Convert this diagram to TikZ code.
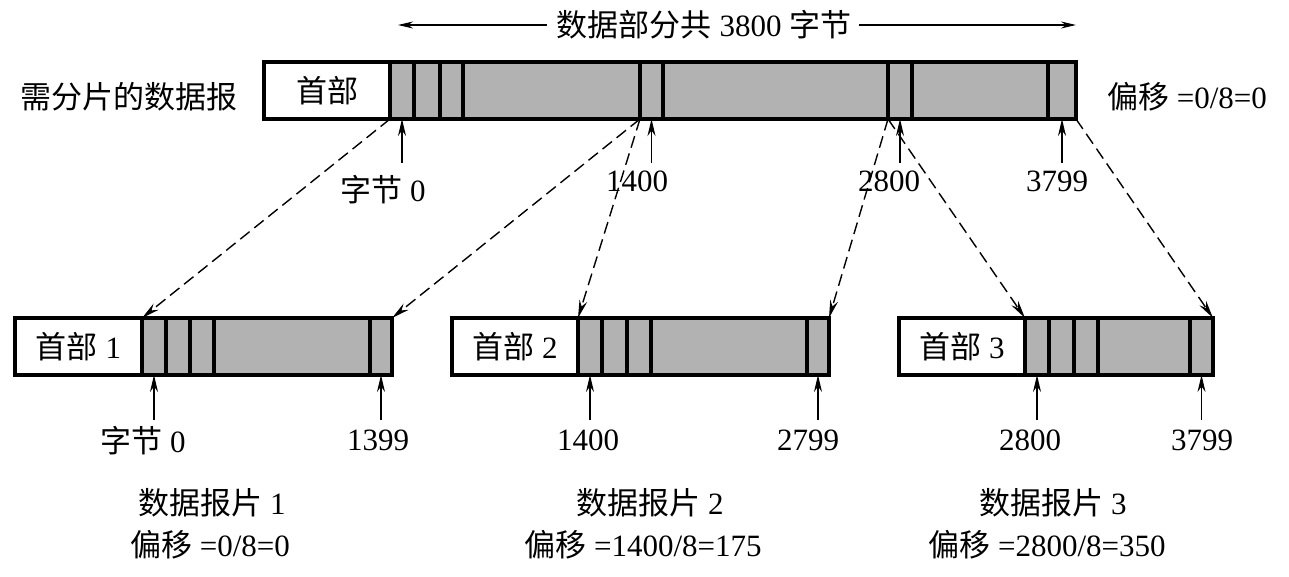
\documentclass[tikz,border=0pt]{standalone}
\usepackage{fontspec}
\setmainfont{Liberation Serif}
\newfontfamily\cjk{Noto Sans CJK SC}
\usetikzlibrary{arrows.meta}
\definecolor{datagray}{RGB}{178,178,178}
\begin{document}
\begin{tikzpicture}[x=1pt,y=-1pt,
  txt/.style={font=\fontsize{31}{36}\selectfont, inner sep=0pt},
  hdr/.style={draw, line width=3.4pt, fill=white, inner sep=0pt, outer sep=0pt,
    anchor=north west, minimum height=57pt, font=\fontsize{31}{36}\selectfont},
  cell/.style={draw, line width=3.4pt, fill=datagray, inner sep=0pt, outer sep=0pt,
    anchor=north west, minimum height=57pt},
  dashconn/.style={line width=1.4pt, dash pattern=on 12pt off 6pt,
    -{Stealth[length=18pt,width=8pt]}},
  ptr/.style={line width=1.4pt, -{Stealth[length=17pt,width=8pt]}},
  dimarr/.style={line width=1.8pt, -{Stealth[length=15pt,width=7pt]}}
]
\useasboundingbox (0,0) rectangle (1289,576);

% top datagram
\node[hdr, minimum width=126pt] (th) at (264,62) {{\cjk 首部}};
\foreach \a/\b/\n in {390/414/1,414/440/2,440/463/3,463/640/4,640/663/5,663/888/6,888/912/7,912/1048/8,1048/1076/9}{
  \pgfmathsetmacro\w{\b-\a}
  \node[cell, minimum width=\w pt] (t\n) at (\a,62) {};
}

% fragment 1
\node[hdr, minimum width=127pt] (h1) at (15,318) {{\cjk 首部} 1};
\foreach \a/\b/\n in {142/166/1,166/190/2,190/214/3,214/370/4,370/392/5}{
  \pgfmathsetmacro\w{\b-\a}
  \node[cell, minimum width=\w pt] (fa\n) at (\a,318) {};
}
% fragment 2
\node[hdr, minimum width=126pt] (h2) at (452,318) {{\cjk 首部} 2};
\foreach \a/\b/\n in {578/602/1,602/627/2,627/651/3,651/807/4,807/829/5}{
  \pgfmathsetmacro\w{\b-\a}
  \node[cell, minimum width=\w pt] (fb\n) at (\a,318) {};
}
% fragment 3
\node[hdr, minimum width=126pt] (h3) at (899,318) {{\cjk 首部} 3};
\foreach \a/\b/\n in {1025/1049/1,1049/1074/2,1074/1098/3,1098/1190/4,1190/1213/5}{
  \pgfmathsetmacro\w{\b-\a}
  \node[cell, minimum width=\w pt] (fc\n) at (\a,318) {};
}

% dimension label
\node[txt] (dim) at (704,25) {{\cjk 数据部分共} 3800 {\cjk 字节}};
\coordinate (dl) at (398,25);
\coordinate (dr) at (1076,25);
\draw[dimarr] ([xshift=-10pt]dim.west) -- (dl);
\draw[dimarr] ([xshift=8pt]dim.east) -- (dr);

% side labels
\node[txt] (lbl) at (129,97) {\cjk 需分片的数据报};
\node[txt] (off0) at (1187,97) {{\cjk 偏移} =0/8=0};

% dashed mapping connectors
\draw[dashconn] (th.south east) -- (fa1.north west);
\draw[dashconn] (t5.south west) -- (fa5.north east);
\draw[dashconn] (t5.south west) -- (fb1.north west);
\draw[dashconn] (t7.south west) -- (fb5.north east);
\draw[dashconn] (t7.south west) -- (fc1.north west);
\draw[dashconn] (t9.south east) -- (fc5.north east);

% pointer arrows, top
\foreach \c in {t1,t5,t7,t9}{
  \draw[ptr] ([yshift=-44pt]\c.south) -- (\c.south);
}
\node[txt] (b0) at (383,190) {{\cjk 字节} 0};
\node[txt] (b1400) at (637,181) {1400};
\node[txt] (b2800) at (889,181) {2800};
\node[txt] (b3799) at (1057,181) {3799};

% pointer arrows, fragments
\foreach \c in {fa1,fa5,fb1,fb5,fc1,fc5}{
  \draw[ptr] ([yshift=-45pt]\c.south) -- (\c.south);
}
\node[txt] (fa0) at (143,441) {{\cjk 字节} 0};
\node[txt] (fa1399) at (378,440) {1399};
\node[txt] (fb1400) at (588,440) {1400};
\node[txt] (fb2799) at (808,440) {2799};
\node[txt] (fc2800) at (1030,440) {2800};
\node[txt] (fc3799) at (1202,440) {3799};

% fragment captions
\node[txt] (cap1) at (212,503) {{\cjk 数据报片} 1};
\node[txt] (off1) at (210,545) {{\cjk 偏移} =0/8=0};
\node[txt] (cap2) at (650,503) {{\cjk 数据报片} 2};
\node[txt] (off2) at (643,545) {{\cjk 偏移} =1400/8=175};
\node[txt] (cap3) at (1053,503) {{\cjk 数据报片} 3};
\node[txt] (off3) at (1047,545) {{\cjk 偏移} =2800/8=350};
\end{tikzpicture}
\end{document}
